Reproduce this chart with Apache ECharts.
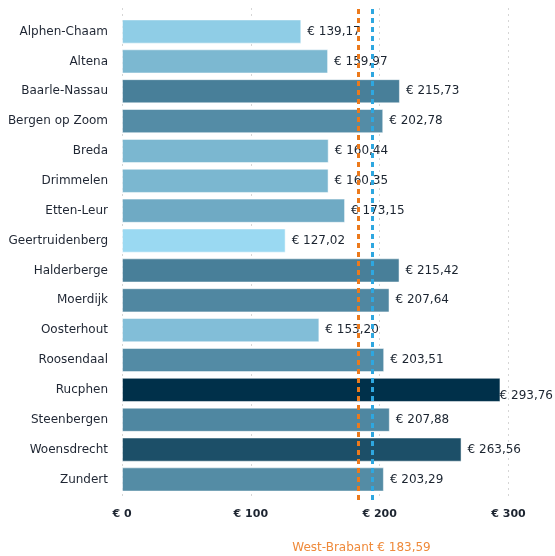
<!DOCTYPE html>
<html>
<head>
<meta charset="utf-8">
<script src="https://cdn.jsdelivr.net/npm/echarts@6/dist/echarts.min.js"></script>
<style>
  html, body { margin: 0; padding: 0; background: #fff; }
  #chart { width: 555px; height: 556px; }
</style>
</head>
<body>
<div id="chart"></div>
<script>
// Kosten per inwoner per gemeente (euro)
const gemeenten = [
  'Alphen-Chaam', 'Altena', 'Baarle-Nassau', 'Bergen op Zoom', 'Breda',
  'Drimmelen', 'Etten-Leur', 'Geertruidenberg', 'Halderberge', 'Moerdijk',
  'Oosterhout', 'Roosendaal', 'Rucphen', 'Steenbergen', 'Woensdrecht', 'Zundert'
];
const bedragen = [
  139.17, 159.97, 215.73, 202.78, 160.44,
  160.35, 173.15, 127.02, 215.42, 207.64,
  153.20, 203.51, 293.76, 207.88, 263.56, 203.29
];
// Referentielijnen
const westBrabant = 183.59;
const tweedeReferentie = 194.6;
const xTicks = [0, 100, 200, 300];

const font = 'DejaVu Sans, Verdana, sans-serif';
const euro = v => '€ ' + v.toFixed(2).replace('.', ',');
const chartWidth = 555;

const chart = echarts.init(document.getElementById('chart'), null, { renderer: 'canvas' });

const option = {
  animation: false,
  backgroundColor: '#ffffff',
  textStyle: { fontFamily: font },
  grid: [
    { left: 122, right: 46.5, top: 16.6, bottom: 61.6 },
    { left: 122, right: 46.5, top: 8, bottom: 56 }
  ],
  xAxis: [
    { gridIndex: 0, type: 'value', min: xTicks[0], max: xTicks[xTicks.length - 1], show: false },
    {
      gridIndex: 1, type: 'value', min: xTicks[0], max: xTicks[xTicks.length - 1], interval: 100,
      axisLine: { show: false }, axisTick: { show: false },
      axisLabel: {
        margin: 9, color: '#1c2430', fontSize: 11, fontWeight: 'bold', fontFamily: font,
        formatter: v => '€ ' + v
      },
      splitLine: { show: true, lineStyle: { color: '#d6d6d6', type: [2, 4], width: 1 } }
    }
  ],
  yAxis: [
    {
      gridIndex: 0, type: 'category', data: gemeenten, inverse: true,
      axisLine: { show: false }, axisTick: { show: false },
      axisLabel: { margin: 14, color: '#1f2633', fontSize: 12, fontFamily: font }
    },
    { gridIndex: 1, type: 'value', min: 0, max: 1, show: false }
  ],
  visualMap: {
    show: false,
    type: 'continuous',
    seriesIndex: 0,
    dimension: 0,
    min: Math.min(...bedragen),
    max: Math.max(...bedragen),
    inRange: { color: ['#9ad9f2', '#00304a'] }
  },
  series: [
    {
      type: 'bar',
      xAxisIndex: 0, yAxisIndex: 0,
      encode: { x: 0, y: 1 },
      data: bedragen.map((v, i) => [v, gemeenten[i]]),
      barCategoryGap: '19%',
      itemStyle: { borderColor: 'rgba(255,255,255,0.5)', borderWidth: 1 },
      label: {
        show: true, position: 'right', distance: 6,
        color: '#1b2430', fontSize: 12, fontFamily: font,
        formatter: p => euro(p.value[0])
      },
      // labels that would run past the right edge are pulled back inside
      labelLayout: params => {
        const r = params.labelRect;
        if (r.x + r.width > chartWidth - 1) {
          return { x: chartWidth - 2 - r.width };
        }
        return {};
      },
      z: 2
    },
    {
      type: 'line',
      xAxisIndex: 1, yAxisIndex: 1,
      data: [],
      z: 5,
      markLine: {
        silent: true,
        symbol: 'none',
        label: { show: false },
        animation: false,
        data: [
          { xAxis: westBrabant, lineStyle: { color: '#ec7a1c', type: [5, 4], width: 3 } },
          { xAxis: tweedeReferentie, lineStyle: { color: '#2ea7e0', type: [5, 4], width: 3 } }
        ]
      }
    }
  ]
};

chart.setOption(option);

// Onderschrift bij de West-Brabant lijn
const lineX = chart.convertToPixel({ xAxisIndex: 1 }, westBrabant);
chart.setOption({
  graphic: [{
    type: 'text',
    x: lineX + 3,
    y: 548,
    style: {
      text: 'West-Brabant ' + euro(westBrabant),
      fill: '#ef8a3a',
      font: '12px ' + font,
      textAlign: 'center',
      textVerticalAlign: 'middle'
    }
  }]
});
</script>
</body>
</html>
